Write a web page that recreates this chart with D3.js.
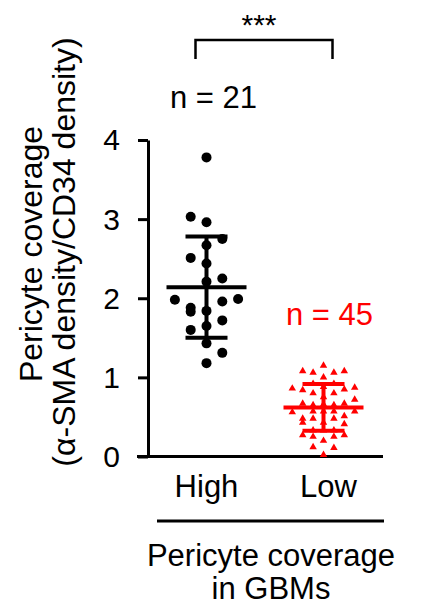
<!DOCTYPE html>
<html>
<head>
<meta charset="utf-8">
<script src="https://cdn.jsdelivr.net/npm/d3@7"></script>
<style>
  html, body { margin: 0; padding: 0; background: #fff; }
  text { font-family: "Liberation Sans", Arial, sans-serif; }
</style>
</head>
<body>
<svg id="chart" width="425" height="611"></svg>
<script>
// ---------- data ----------
const categories = ["High", "Low"];
const yTicks = [0, 1, 2, 3, 4];
const highValues = [3.78, 3.03, 2.96, 2.75, 2.67, 2.51, 2.44, 2.25, 2.21, 1.98, 1.96, 1.99,
                    1.88, 1.84, 1.83, 1.72, 1.65, 1.60, 1.43, 1.31, 1.18];
const highSlots  = [0, -1, 0, 1, 0, -1, 0, 1, 0, -2, 1, 2,
                    -1, 0, -1, 1, 0, -1, 0, 1, 0];
const lowValues = [1.15, 1.08, 1.06, 1.06, 1.08, 1.00, 0.92, 0.92, 0.86, 0.84, 0.85, 0.87,
                   0.80, 0.80, 0.72, 0.67, 0.65, 0.65, 0.67, 0.66, 0.88, 0.33,
                   0.56, 0.57, 0.57, 0.57, 0.57, 0.48, 0.48, 0.48, 0.51, 0.43, 0.43, 0.41,
                   0.33, 0.33, 0.27, 0.25, 0.25, 0.27, 0.20, 0.12, 0.11, 0.02, 0.75];
const lowSlots  = [0, -2, -1, 1, 2, 0, -1, 1, -3, -2, 2, 3,
                   -1, 1, 3, -2, -1, 1, 2, 0, 0, 0,
                   -3, -1, 0, 1, 3, -2, -1, 1, 2, -2, 0, 2,
                   -1, 1, -2, -1, 1, 2, 0, -1, 1, 0, 0];
const groupMeans = [2.14, 0.62];
const groupSDs   = [0.64, 0.295];
const groupN     = ["n = 21", "n = 45"];
const sigLabel = "***";
const yTitle = ["Pericyte coverage", "(α-SMA density/CD34 density)"];
const xTitle = ["Pericyte coverage", "in GBMs"];

// ---------- setup ----------
const svg = d3.select("#chart");
const font = "Liberation Sans, Arial, sans-serif";
const colors = ["#000000", "#ff0000"];

const y = d3.scaleLinear().domain([0, 4]).range([456.5, 140]);
const x = d3.scalePoint().domain(categories).range([148, 382]).padding(0.5);
const slotHigh = d3.scaleLinear().domain([0, 1]).range([0, 15.8]);
const slotLow  = d3.scaleLinear().domain([0, 1]).range([0, 10.4]);

// ---------- y axis ----------
const yAxis = d3.axisLeft(y).tickValues(yTicks).tickFormat(d3.format("d"))
  .tickSize(10).tickSizeOuter(0).tickPadding(18);
const gy = svg.append("g").attr("transform", "translate(148,0)").call(yAxis);
gy.select(".domain").attr("stroke", "#000").attr("stroke-width", 3);
gy.selectAll(".tick line").attr("stroke", "#000").attr("stroke-width", 3);
gy.selectAll(".tick text").attr("font-size", 30).attr("font-family", font)
  .attr("fill", "#000").attr("dy", "0.33em");

// ---------- x axis line ----------
const xr = x.range();
svg.append("line").attr("x1", xr[0] - 11).attr("x2", xr[1] + 1)
  .attr("y1", y(0)).attr("y2", y(0)).attr("stroke", "#000").attr("stroke-width", 3);

svg.selectAll(".xlab").data(categories).join("text")
  .attr("class", "xlab")
  .attr("x", d => x(d) + (d === "Low" ? 5 : 0)).attr("y", 497)
  .attr("text-anchor", "middle").attr("font-size", 31).attr("font-family", font)
  .attr("fill", "#000").text(d => d);

// line under the categories
svg.append("line").attr("x1", 157).attr("x2", 384).attr("y1", 521).attr("y2", 521)
  .attr("stroke", "#000").attr("stroke-width", 3);

svg.selectAll(".xtitle").data(xTitle).join("text")
  .attr("class", "xtitle")
  .attr("x", 271).attr("y", (d, i) => 566 + i * 33)
  .attr("text-anchor", "middle").attr("font-size", 31).attr("font-family", font)
  .attr("fill", "#000").text(d => d);

// y title
svg.selectAll(".ytitle").data(yTitle).join("text")
  .attr("class", "ytitle")
  .attr("transform", (d, i) => `translate(${42 + i * 33},${254 - i * 2}) rotate(-90)`)
  .attr("text-anchor", "middle").attr("font-size", 32).attr("font-family", font)
  .attr("fill", "#000").text(d => d);

// ---------- points ----------
const highPts = highValues.map((v, i) => ({ v, s: highSlots[i] }));
const lowPts = lowValues.map((v, i) => ({ v, s: lowSlots[i] }));

svg.append("g").selectAll("circle").data(highPts).join("circle")
  .attr("cx", d => x("High") + slotHigh(d.s))
  .attr("cy", d => y(d.v))
  .attr("r", 5).attr("fill", colors[0]);

const tri = d3.symbol().type(d3.symbolTriangle).size(24);
svg.append("g").selectAll("path").data(lowPts).join("path")
  .attr("d", tri)
  .attr("transform", d => `translate(${x("Low") + slotLow(d.s)},${y(d.v)})`)
  .attr("fill", colors[1]);

// ---------- mean ± SD ----------
categories.forEach((c, i) => {
  const cx = x(c), m = groupMeans[i], s = groupSDs[i], col = colors[i];
  const g = svg.append("g").attr("stroke", col).attr("stroke-width", 4);
  g.append("line").attr("x1", cx).attr("x2", cx).attr("y1", y(m + s)).attr("y2", y(m - s));
  g.append("line").attr("x1", cx - 40).attr("x2", cx + 40).attr("y1", y(m)).attr("y2", y(m));
  g.append("line").attr("x1", cx - 21).attr("x2", cx + 21).attr("y1", y(m + s)).attr("y2", y(m + s));
  g.append("line").attr("x1", cx - 21).attr("x2", cx + 21).attr("y1", y(m - s)).attr("y2", y(m - s));
});

// n labels
svg.append("text").attr("x", x("High") + 7).attr("y", 108).attr("text-anchor", "middle")
  .attr("font-size", 31).attr("font-family", font).attr("fill", colors[0]).text(groupN[0]);
svg.append("text").attr("x", x("Low") + 6).attr("y", 325).attr("text-anchor", "middle")
  .attr("font-size", 31).attr("font-family", font).attr("fill", colors[1]).text(groupN[1]);

// significance bracket
svg.append("path")
  .attr("d", `M${x("High") - 11},59 V40 H${x("Low") + 9} V59`)
  .attr("fill", "none").attr("stroke", "#000").attr("stroke-width", 2.5);
svg.append("text").attr("x", 259).attr("y", 35).attr("text-anchor", "middle")
  .attr("font-size", 30).attr("font-family", font).attr("fill", "#000").text(sigLabel);
</script>
</body>
</html>
